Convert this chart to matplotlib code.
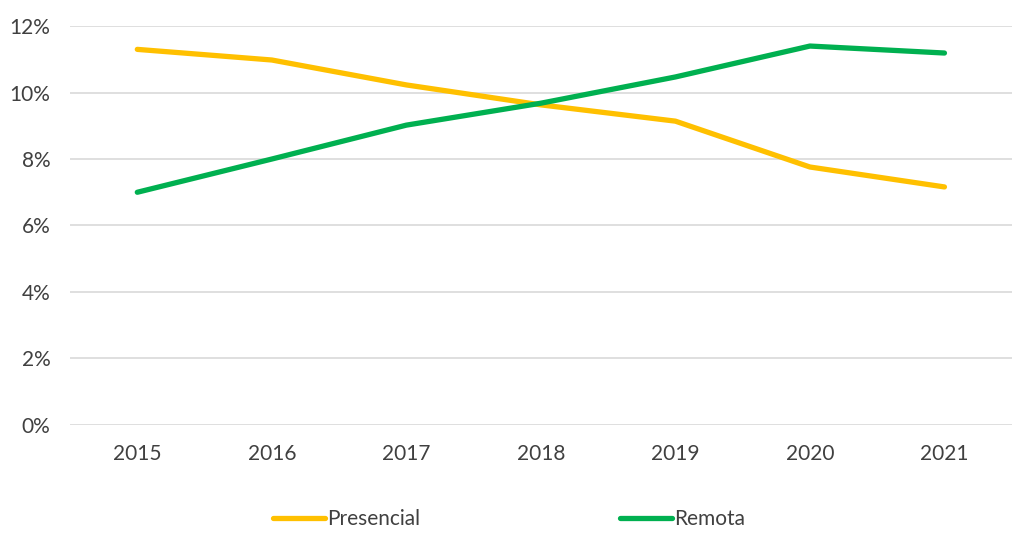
import matplotlib.pyplot as plt
from matplotlib.ticker import FuncFormatter

years = ['2015', '2016', '2017', '2018', '2019', '2020', '2021']
presencial = [11.3, 10.98, 10.23, 9.63, 9.14, 7.76, 7.16]
remota = [7.0, 8.0, 9.02, 9.68, 10.47, 11.4, 11.19]

plt.rcParams['font.family'] = ['Lato', 'DejaVu Sans']

fig = plt.figure(figsize=(10.24, 5.44), dpi=100)
ax = fig.add_axes([0.0684, 0.219, 0.9196, 0.733])

x = range(len(years))
ax.plot(x, presencial, color='#FFC000', lw=3.8, solid_capstyle='round', label='Presencial')
ax.plot(x, remota, color='#00B050', lw=3.8, solid_capstyle='round', label='Remota')

ax.set_xlim(-0.5, len(years) - 0.5)
ax.set_ylim(0, 12)
ax.set_yticks(range(0, 13, 2))
ax.yaxis.set_major_formatter(FuncFormatter(lambda v, p: f'{v:.0f}%'))
ax.set_xticks(list(x))
ax.set_xticklabels(years)

# light horizontal gridlines only, no frame
ax.grid(axis='y', color='#D9D9D9', lw=1.2)
ax.set_axisbelow(True)
for s in ax.spines.values():
    s.set_visible(False)
ax.tick_params(length=0, labelsize=15, labelcolor='#404040')
ax.tick_params(axis='x', pad=14)
ax.tick_params(axis='y', pad=14)

ax.legend(loc='center', bbox_to_anchor=(0.466, -0.236), ncol=2, frameon=False,
          fontsize=15, handlelength=2.5, handletextpad=0.1, columnspacing=9.6,
          labelcolor='#404040')

fig.savefig('out.png')
